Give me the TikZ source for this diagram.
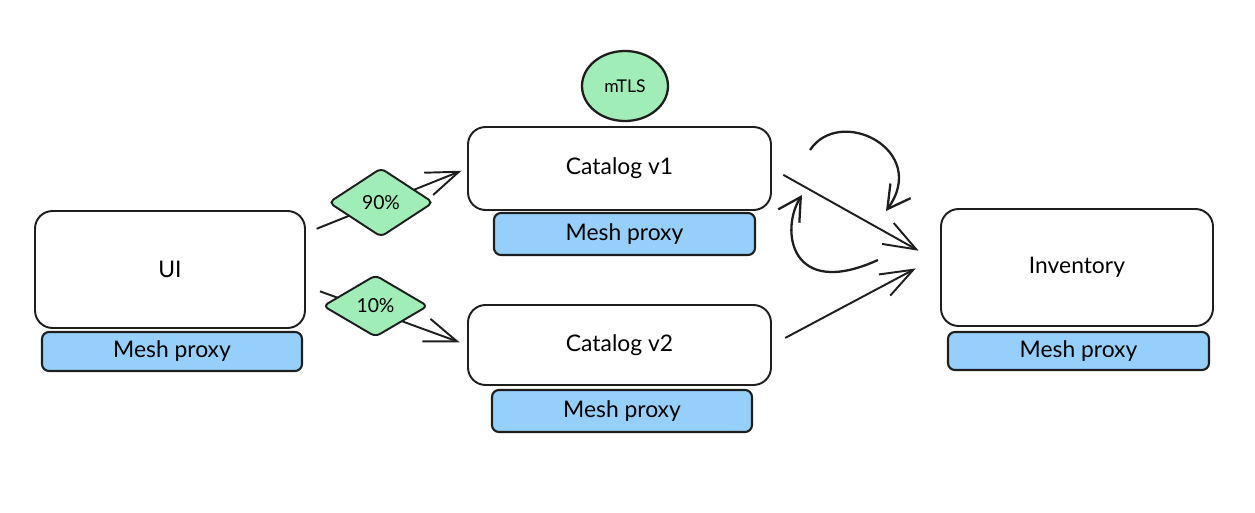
\documentclass[tikz,border=0pt]{standalone}
\usepackage{xcolor}
\usepackage{fontspec}
\setmainfont{Lato}
\usepackage{tikz}
\usetikzlibrary{arrows.meta,shapes.geometric}
\definecolor{inkdark}{HTML}{1E1E1E}
\definecolor{proxyblue}{HTML}{96D0FA}
\definecolor{taggreen}{HTML}{A0EDB8}
\tikzset{
  svcbox/.style={
    rounded corners=10pt,
    draw=inkdark,
    fill=white,
    line width=1.1pt,
    align=center,
    font=\fontsize{13}{15}\selectfont,
    inner sep=4pt
  },
  proxybox/.style={svcbox, rounded corners=4pt, fill=proxyblue, line width=1.2pt},
  splitdiamond/.style={diamond, draw=inkdark, fill=taggreen, line width=1.1pt,
    rounded corners=3pt, inner sep=0pt, font=\fontsize{11}{13}\selectfont},
  tlsbadge/.style={ellipse, draw=inkdark, fill=taggreen, line width=1.3pt,
    inner sep=0pt, font=\fontsize{10}{12}\selectfont},
  arrow/.style={-{Straight Barb[length=6.5mm,width=4.8mm]}, line width=1.1pt, draw=inkdark},
  looparrow/.style={-{Straight Barb[length=4.5mm,width=5mm]}, line width=1.3pt, draw=inkdark}
}

\begin{document}
\begin{tikzpicture}[x=1cm,y=1cm]
  \useasboundingbox (0,0) rectangle (25.1,10.24);

  \node[svcbox, minimum width=5.40cm, minimum height=2.34cm] (ui) at (3.40,4.85) {UI};
  \node[proxybox, minimum width=5.20cm, minimum height=0.78cm] (uiproxy) at (3.44,3.21) {Mesh proxy};

  \node[tlsbadge, minimum width=1.72cm, minimum height=1.40cm] (mtls) at (12.50,8.52) {mTLS};
  \node[svcbox, minimum width=6.06cm, minimum height=1.66cm] (catv1) at (12.39,6.87) {Catalog v1};
  \node[proxybox, minimum width=5.22cm, minimum height=0.84cm] (v1proxy) at (12.49,5.56) {Mesh proxy};

  \node[svcbox, minimum width=6.06cm, minimum height=1.60cm] (catv2) at (12.39,3.34) {Catalog v2};
  \node[proxybox, minimum width=5.20cm, minimum height=0.84cm] (v2proxy) at (12.44,2.02) {Mesh proxy};

  \node[svcbox, minimum width=5.44cm, minimum height=2.34cm] (inv) at (21.54,4.89) {Inventory};
  \node[proxybox, minimum width=5.22cm, minimum height=0.76cm] (invproxy) at (21.57,3.22) {Mesh proxy};

  % traffic split
  \draw[arrow, shorten <=0.23cm, shorten >=0.12cm] (ui.15) -- (catv1.west);
  \draw[arrow, shorten <=0.30cm, shorten >=0.16cm] (ui.-7) -- (catv2.west);
  \draw[arrow, shorten <=0.26cm, shorten >=0.49cm] (catv1.east) -- (inv.178);
  \draw[arrow, shorten <=0.30cm, shorten >=0.55cm] (catv2.east) -- (inv.175);

  \node[splitdiamond, minimum width=2.10cm, minimum height=1.38cm] (split90) at (7.62,6.19) {90\%};
  \node[splitdiamond, minimum width=2.10cm, minimum height=1.24cm] (split10) at (7.51,4.12) {10\%};

  % retry loops
  \coordinate (loopastart) at (16.20,7.24);
  \coordinate (loopaend) at (17.72,6.02);
  \coordinate (loopbstart) at (17.56,5.04);
  \coordinate (loopbend) at (16.04,6.34);
  \draw[looparrow] (loopastart) .. controls (16.80,8.14) and (18.60,7.24) .. (loopaend);
  \draw[looparrow] (loopbstart) .. controls (15.80,4.24) and (15.60,5.64) .. (loopbend);
\end{tikzpicture}
\end{document}
